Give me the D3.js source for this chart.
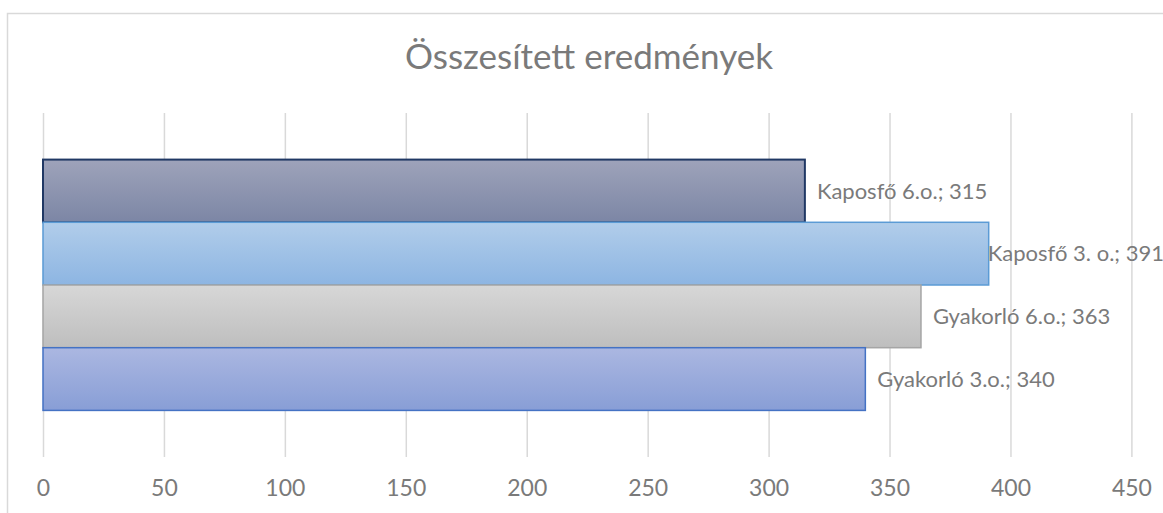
<!DOCTYPE html>
<html>
<head>
<meta charset="utf-8">
<script src="https://cdn.jsdelivr.net/npm/d3@7"></script>
<style>
  html, body { margin: 0; padding: 0; background: #fff; }
  svg { display: block; font-family: Lato, "Open Sans", sans-serif; }
</style>
</head>
<body>
<div id="chart"></div>
<script>
// chart data (top bar first)
const SERIES = ["Kaposfő 6.o.", "Kaposfő 3. o.", "Gyakorló 6.o.", "Gyakorló 3.o."];
const VALUES = [315, 391, 363, 340];
const TICKS = [0, 50, 100, 150, 200, 250, 300, 350, 400, 450];
const TITLE = "Összesített eredmények";

const WIDTH = 1163;
const HEIGHT = 513;
const PLOT_LEFT = 43;
const PLOT_RIGHT = 1131.4;
const PLOT_TOP = 113;
const PLOT_BOTTOM = 457;
const TEXT_COLOR = "#7a7a7a";

// fill gradients and outlines per bar
const BAR_STYLES = [
    { top: "#9ea3ba", bottom: "#7c86a5", stroke: "#203864", sw: 2 },
    { top: "#b1cdea", bottom: "#8db5e2", stroke: "#5b9bd5", sw: 1.5 },
    { top: "#d7d7d7", bottom: "#bebebe", stroke: "#a5a5a5", sw: 1.5 },
    { top: "#abb7e1", bottom: "#889ed6", stroke: "#4472c4", sw: 1.5 }
];

let data = SERIES.map((s, i) => ({ name: s, value: VALUES[i], style: BAR_STYLES[i], idx: i }));

let xScale = d3.scaleLinear()
               .domain([0, 450])
               .range([PLOT_LEFT, PLOT_RIGHT]);

let yScale = d3.scaleBand()
               .domain(SERIES)
               .range([PLOT_TOP, PLOT_BOTTOM])
               .paddingInner(0)
               .paddingOuter(0.743);

let svg = d3.select("#chart")
            .append("svg")
            .attr("width", WIDTH)
            .attr("height", HEIGHT);

// gradients
let defs = svg.append("defs");
data.forEach((d) => {
    let g = defs.append("linearGradient")
                .attr("id", "grad" + d.idx)
                .attr("x1", 0).attr("y1", 0)
                .attr("x2", 0).attr("y2", 1);
    g.append("stop").attr("offset", "0%").attr("stop-color", d.style.top);
    g.append("stop").attr("offset", "100%").attr("stop-color", d.style.bottom);
});

// chart area border
svg.append("rect")
   .attr("x", 7.5)
   .attr("y", 13.5)
   .attr("width", 1170)
   .attr("height", 520)
   .attr("fill", "none")
   .attr("stroke", "#d9d9d9")
   .attr("stroke-width", 1.5);

// title
svg.append("text")
   .attr("x", 589)
   .attr("y", 69)
   .attr("text-anchor", "middle")
   .attr("fill", TEXT_COLOR)
   .style("font-size", "35px")
   .text(TITLE);

// grid + tick labels via axis
let xAxis = d3.axisBottom(xScale)
              .tickValues(TICKS)
              .tickSize(PLOT_BOTTOM - PLOT_TOP)
              .tickPadding(23)
              .tickFormat((d) => d.toString());

let axisG = svg.append("g")
               .attr("transform", "translate(0," + PLOT_TOP + ")")
               .call(xAxis);
axisG.select(".domain").remove();
axisG.selectAll(".tick line")
     .attr("stroke", "#d9d9d9")
     .attr("stroke-width", 1.5);
axisG.selectAll(".tick text")
     .attr("fill", TEXT_COLOR)
     .style("font-size", "23px")
     .style("font-family", "Lato, 'Open Sans', sans-serif");

// bars
svg.selectAll("rect.bar")
   .data(data)
   .enter()
   .append("rect")
   .attr("class", "bar")
   .attr("x", xScale(0))
   .attr("y", (d) => yScale(d.name))
   .attr("width", (d) => xScale(d.value) - xScale(0))
   .attr("height", yScale.bandwidth())
   .attr("fill", (d) => "url(#grad" + d.idx + ")")
   .attr("stroke", (d) => d.style.stroke)
   .attr("stroke-width", (d) => d.style.sw);

// data labels; pushed left if they run off the right side
let labels = svg.selectAll("text.lbl")
   .data(data)
   .enter()
   .append("text")
   .attr("class", "lbl")
   .attr("y", (d) => yScale(d.name) + yScale.bandwidth() / 2)
   .attr("dy", "0.35em")
   .attr("fill", TEXT_COLOR)
   .style("font-size", "22px")
   .text((d) => d.name + "; " + d.value);

labels.attr("x", function(d) {
    let w = this.getComputedTextLength();
    return Math.min(xScale(d.value) + 12, WIDTH + 1 - w);
});
</script>
</body>
</html>
